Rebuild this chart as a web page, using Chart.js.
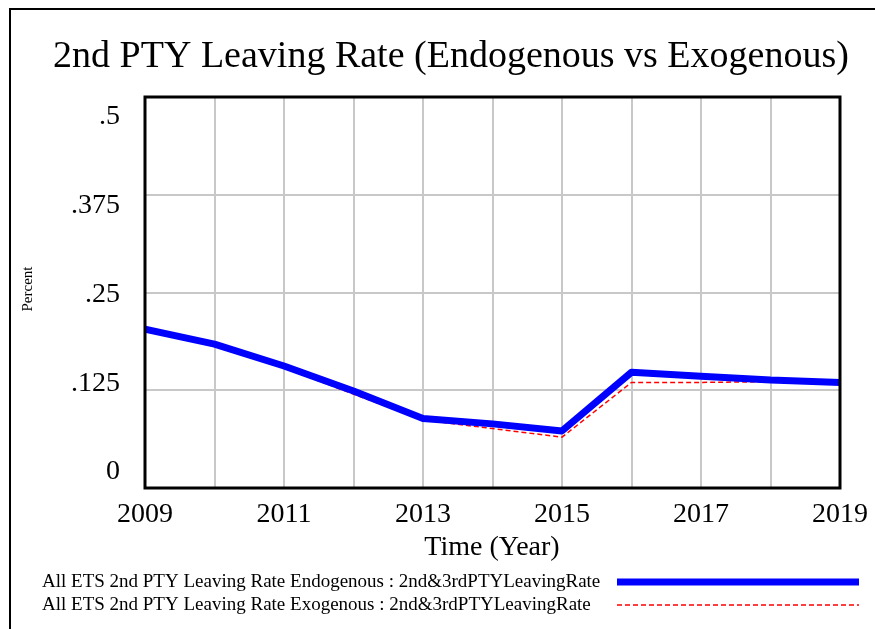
<!DOCTYPE html>
<html>
<head>
<meta charset="utf-8">
<script src="https://cdn.jsdelivr.net/npm/chart.js@4"></script>
<style>
  html, body { margin: 0; padding: 0; background: #fff; }
  #wrap { width: 875px; height: 629px; position: relative; }
</style>
</head>
<body>
<div id="wrap"><canvas id="chart" width="875" height="629"></canvas></div>
<script>
const years = [2009, 2010, 2011, 2012, 2013, 2014, 2015, 2016, 2017, 2018, 2019]
const endogenous = [0.203, 0.184, 0.156, 0.124, 0.089, 0.082, 0.073, 0.148, 0.143, 0.138, 0.135]
const exogenous = [0.203, 0.182, 0.154, 0.120, 0.087, 0.076, 0.065, 0.135, 0.135, 0.136, 0.134]
const yTickLabels = {0: '0', 0.125: '.125', 0.25: '.25', 0.375: '.375', 0.5: '.5'}

const titleText = '2nd PTY Leaving Rate (Endogenous vs Exogenous)'
const xTitle = 'Time (Year)'
const yTitle = 'Percent'
const serif = "'Liberation Serif', 'Times New Roman', serif"

const toPoints = (vals) => years.map((y, i) => ({x: y, y: vals[i]}))

// vensim-like decorations: frame, title, axis titles, y labels, legend
const decorations = {
    id: 'decorations',
    afterDraw(chart) {
        const ctx = chart.ctx
        const area = chart.chartArea
        const yScale = chart.scales.y
        ctx.save()

        // outer frame (top + left only visible)
        ctx.strokeStyle = '#000'
        ctx.lineWidth = 2
        ctx.beginPath()
        ctx.moveTo(875, 9)
        ctx.lineTo(10, 9)
        ctx.lineTo(10, 629)
        ctx.stroke()

        // plot border
        ctx.lineWidth = 3
        ctx.strokeRect(area.left, area.top, area.right - area.left, area.bottom - area.top)

        ctx.fillStyle = '#000'
        ctx.font = '38px ' + serif
        ctx.textAlign = 'center'
        ctx.textBaseline = 'alphabetic'
        ctx.fillText(titleText, 451, 67)

        // y labels sit a bit inside the axis range, like the original
        ctx.font = '28px ' + serif
        ctx.textAlign = 'right'
        ctx.textBaseline = 'middle'
        const mid = (area.top + area.bottom) / 2
        yScale.ticks.forEach(t => {
            const px = yScale.getPixelForValue(t.value)
            const py = mid + (px - mid) * 0.908
            ctx.fillText(yTickLabels[t.value] ?? String(t.value), 120, py + 2)
        })

        ctx.textAlign = 'center'
        ctx.fillText(xTitle, 492, 548)

        ctx.save()
        ctx.translate(28, 289)
        ctx.rotate(-Math.PI / 2)
        ctx.font = '15px ' + serif
        ctx.fillText(yTitle, 0, 0)
        ctx.restore()

        // legend: text on left, line sample on right
        ctx.font = '19px ' + serif
        ctx.textAlign = 'left'
        chart.data.datasets.forEach((ds, i) => {
            const ly = 582 + i * 23
            ctx.fillStyle = '#000'
            ctx.fillText(ds.label, 42, ly)
            ctx.strokeStyle = ds.borderColor
            ctx.lineWidth = ds.borderWidth
            ctx.setLineDash(ds.borderDash || [])
            ctx.beginPath()
            ctx.moveTo(617, ly)
            ctx.lineTo(859, ly)
            ctx.stroke()
        })
        ctx.restore()
    }
}

const chart = new Chart(document.getElementById('chart'), {
    type: 'line',
    data: {
        datasets: [
            {
                label: 'All ETS 2nd PTY Leaving Rate Endogenous : 2nd&3rdPTYLeavingRate',
                data: toPoints(endogenous),
                borderColor: '#0000ff',
                backgroundColor: '#0000ff',
                borderWidth: 7,
                pointRadius: 0,
                tension: 0,
                borderJoinStyle: 'round'
            },
            {
                label: 'All ETS 2nd PTY Leaving Rate Exogenous : 2nd&3rdPTYLeavingRate',
                data: toPoints(exogenous),
                borderColor: '#ff0000',
                backgroundColor: '#ff0000',
                borderWidth: 1.5,
                borderDash: [5, 3],
                pointRadius: 0,
                tension: 0
            }
        ]
    },
    options: {
        responsive: false,
        animation: false,
        layout: {padding: {left: 145, right: 35, top: 97, bottom: 0}},
        plugins: {
            legend: {display: false},
            title: {display: false},
            tooltip: {enabled: false}
        },
        scales: {
            x: {
                type: 'linear',
                min: 2009,
                max: 2019,
                afterFit: (s) => {
                    s.height = 141
                    s.paddingLeft = 0
                    s.paddingRight = 0
                },
                border: {display: false},
                grid: {color: '#c8c8c8', lineWidth: 2, drawTicks: false},
                ticks: {
                    stepSize: 1,
                    autoSkip: false,
                    maxRotation: 0,
                    padding: 10,
                    color: '#000',
                    font: {family: serif, size: 28},
                    callback: (v) => (v % 2 === 1 ? String(v) : '')
                }
            },
            y: {
                min: 0,
                max: 0.5,
                afterFit: (s) => { s.width = 0 },
                border: {display: false},
                grid: {color: '#c8c8c8', lineWidth: 2, drawTicks: false},
                ticks: {stepSize: 0.125, display: false}
            }
        }
    },
    plugins: [decorations]
})
</script>
</body>
</html>
